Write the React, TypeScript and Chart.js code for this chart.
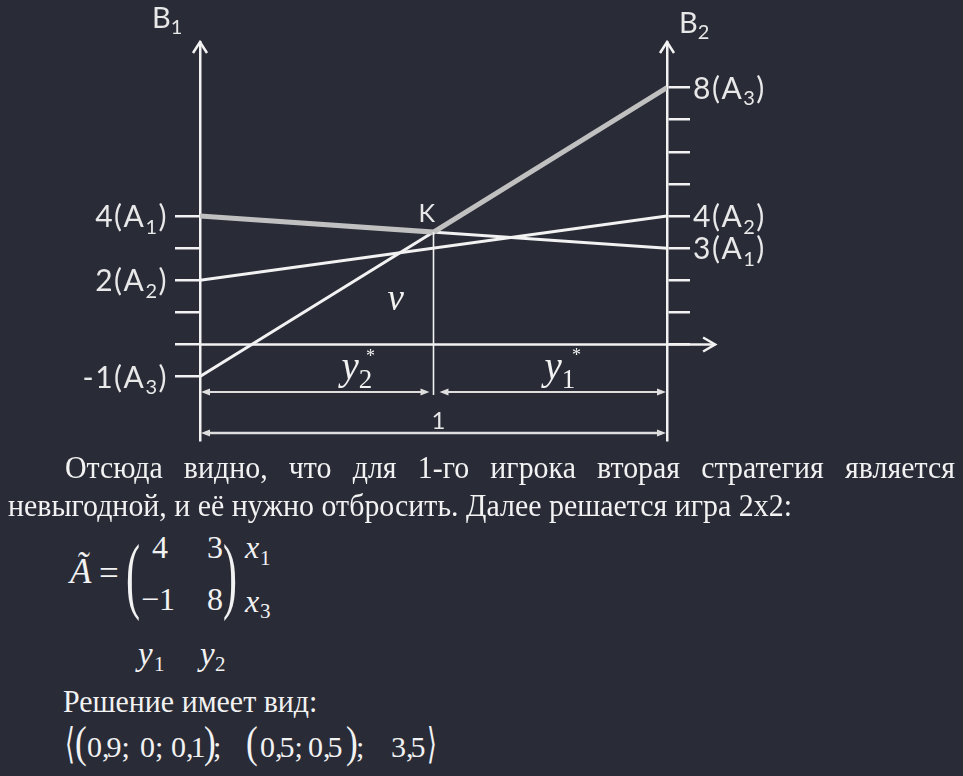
import React, { useEffect, useRef } from 'react';
import { Chart, registerables } from 'chart.js';

Chart.register(...registerables);

const BG = '#292b37';
const FG = '#f2f2f2';
const GRAY = '#c0c0c0';
const SANS = 'Lato, "Open Sans", sans-serif';
const SERIF = '"Liberation Serif", "Times New Roman", serif';

// payoff lines: value on B1 axis (x = 0) and on B2 axis (x = 1)
const strategies = ['A_1', 'A_2', 'A_3'];
const valuesAtB1 = [4, 2, -1];
const valuesAtB2 = [3, 4, 8];

// highlighted envelope through point K
const envelopeX = [0, 0.5, 1];
const envelopeY = [4, 3.5, 8];
const kPoint = [0.5, 3.5];

const leftTickValues = [-1, 0, 1, 2, 3, 4];
const leftTickLabels = ['-1(A_3)', '', '', '2(A_2)', '', '4(A_1)'];
const rightTickValues = [0, 1, 2, 3, 4, 5, 6, 7, 8];
const rightTickLabels = ['', '', '', '3(A_1)', '4(A_2)', '', '', '', '8(A_3)'];

const Y_MIN = -2.975;
const Y_MAX = 9.42;
const X_AXIS_END = 1.103;
const DIM_Y1 = -1.48;
const DIM_Y2 = -2.76;

type Seg = { t: string; sub: boolean };
function parseRich(s: string): Seg[] {
  const segs: Seg[] = [];
  for (let i = 0; i < s.length; i++) {
    if (s[i] === '_') {
      segs.push({ t: s[i + 1], sub: true });
      i++;
    } else if (segs.length && !segs[segs.length - 1].sub) segs[segs.length - 1].t += s[i];
    else segs.push({ t: s[i], sub: false });
  }
  return segs;
}

function drawRich(
  ctx: CanvasRenderingContext2D,
  s: string,
  x: number,
  y: number,
  size: number,
  align: 'left' | 'right' | 'center',
  family = SANS,
  italic = false,
  spacing = 0
) {
  const segs = parseRich(s);
  const subSize = Math.round(size * 0.68);
  const fontFor = (sub: boolean) => `${italic && !sub ? 'italic ' : ''}${sub ? subSize : size}px ${family}`;
  (ctx as any).letterSpacing = `${spacing}px`;
  let w = 0;
  for (const sg of segs) {
    ctx.font = fontFor(sg.sub);
    w += ctx.measureText(sg.t).width;
  }
  let cx = align === 'left' ? x : align === 'right' ? x - w : x - w / 2;
  ctx.textAlign = 'left';
  ctx.textBaseline = 'alphabetic';
  for (const sg of segs) {
    ctx.font = fontFor(sg.sub);
    ctx.fillText(sg.t, cx, sg.sub ? y + size * 0.22 : y);
    cx += ctx.measureText(sg.t).width;
  }
  (ctx as any).letterSpacing = '0px';
}

function line(ctx: CanvasRenderingContext2D, x1: number, y1: number, x2: number, y2: number, w: number) {
  ctx.lineWidth = w;
  ctx.beginPath();
  ctx.moveTo(x1, y1);
  ctx.lineTo(x2, y2);
  ctx.stroke();
}

function chevron(ctx: CanvasRenderingContext2D, tx: number, ty: number, dx: number, dy: number, len: number, hw: number) {
  ctx.lineWidth = 2.5;
  ctx.beginPath();
  ctx.moveTo(tx - dx * len - dy * hw, ty - dy * len + dx * hw);
  ctx.lineTo(tx, ty);
  ctx.lineTo(tx - dx * len + dy * hw, ty - dy * len - dx * hw);
  ctx.stroke();
}

function head(ctx: CanvasRenderingContext2D, tx: number, ty: number, dx: number, len = 9, hw = 3.5) {
  ctx.beginPath();
  ctx.moveTo(tx, ty);
  ctx.lineTo(tx - dx * len, ty - hw);
  ctx.lineTo(tx - dx * len, ty + hw);
  ctx.closePath();
  ctx.fill();
}

const overlay = {
  id: 'overlay',
  afterDraw(chart: any) {
    const { ctx, scales, chartArea } = chart;
    const px = (v: number) => scales.x.getPixelForValue(v);
    const py = (v: number) => scales.y.getPixelForValue(v);
    ctx.save();
    ctx.strokeStyle = FG;
    ctx.fillStyle = FG;

    // horizontal axis with arrow
    line(ctx, px(0), py(0), px(X_AXIS_END), py(0), 2.5);
    chevron(ctx, px(X_AXIS_END), py(0), 1, 0, 12, 7);
    // vertical axes arrows
    chevron(ctx, px(0), chartArea.top, 0, -1, 11, 7);
    chevron(ctx, px(1), chartArea.top, 0, -1, 11, 7);

    // vertical through K
    line(ctx, px(kPoint[0]), py(kPoint[1]), px(kPoint[0]), py(DIM_Y1) + 3, 1.6);

    // dimension lines
    ctx.strokeStyle = '#dedede';
    ctx.fillStyle = '#dedede';
    const y1 = py(DIM_Y1);
    const aL = px(0) + 1, aR = px(kPoint[0]) - 4, bL = px(kPoint[0]) + 6, bR = px(1) - 1;
    line(ctx, aL + 4, y1, aR - 4, y1, 2);
    head(ctx, aL, y1, -1);
    head(ctx, aR, y1, 1);
    line(ctx, bL + 4, y1, bR - 4, y1, 2);
    head(ctx, bL, y1, -1);
    head(ctx, bR, y1, 1);
    const y2 = py(DIM_Y2);
    line(ctx, aL + 4, y2, bR - 4, y2, 2.5);
    head(ctx, aL, y2, -1);
    head(ctx, bR, y2, 1);

    ctx.fillStyle = '#e8e8e8';
    // tick labels
    leftTickValues.forEach((v, i) => {
      if (leftTickLabels[i]) drawRich(ctx, leftTickLabels[i], px(0) - 32, py(v) + 11, 30, 'right', SANS, false, 1.5);
    });
    rightTickValues.forEach((v, i) => {
      if (rightTickLabels[i]) drawRich(ctx, rightTickLabels[i], px(1) + 26, py(v) + 11, 30, 'left', SANS, false, 1.5);
    });
    // axis names
    drawRich(ctx, 'B_1', px(0) - 48, chartArea.top - 14, 29, 'left');
    drawRich(ctx, 'B_2', px(1) + 12, chartArea.top - 9, 29, 'left');
    // point K
    drawRich(ctx, 'K', px(kPoint[0]) - 15, py(kPoint[1]) - 10, 25, 'left');
    // total length
    drawRich(ctx, '1', (px(0) + px(1)) / 2 + 5, y2 - 4, 24, 'center');

    // v, y2*, y1*
    ctx.fillStyle = FG;
    drawRich(ctx, 'v', px(kPoint[0]) - 46, py(1.06), 37, 'left', SERIF, true);
    drawRich(ctx, 'y_2', px(kPoint[0]) - 92, py(-1.08), 39, 'left', SERIF, true);
    drawRich(ctx, 'y_1', px(kPoint[0]) + 111, py(-1.08), 39, 'left', SERIF, true);
    ctx.font = `18px ${SERIF}`;
    ctx.textAlign = 'center';
    ctx.fillText('*', px(kPoint[0]) - 63, py(0) + 18);
    ctx.fillText('*', px(kPoint[0]) + 143, py(0) + 17);
    ctx.restore();
  },
};

const ASC = 0.8375;
function Txt({ x, y, size, italic, sx, family, children }: any) {
  return (
    <span
      style={{
        position: 'absolute',
        left: x,
        top: y - ASC * size,
        fontSize: size,
        lineHeight: `${size}px`,
        fontFamily: family || SERIF,
        fontStyle: italic ? 'italic' : 'normal',
        whiteSpace: 'pre',
        transform: sx ? `scaleX(${sx})` : undefined,
        transformOrigin: 'left top',
      }}
    >
      {children}
    </span>
  );
}

// number token with a tight decimal comma (equation style)
function Num({ x, y, text }: { x: number; y: number; text: string }) {
  return (
    <Txt x={x} y={y} size={NUM}>
      {text.split('').map((c, i) =>
        c === ',' ? (
          <span key={i} style={{ letterSpacing: '-3px' }}>
            ,
          </span>
        ) : (
          <span key={i}>{c}</span>
        )
      )}
    </Txt>
  );
}

const F = 32;
const SX = 0.935;
const NUM = 30;

export default function App() {
  const ref = useRef<HTMLCanvasElement>(null);
  useEffect(() => {
    document.body.style.margin = '0';
    document.body.style.background = BG;
    const datasets: any[] = [
      {
        label: 'envelope',
        data: envelopeX.map((x, i) => ({ x, y: envelopeY[i] })),
        borderColor: GRAY,
        borderWidth: 5,
        showLine: true,
        pointRadius: 0,
      },
      ...strategies.map((s, i) => ({
        label: s,
        data: [
          { x: 0, y: valuesAtB1[i] },
          { x: 1, y: valuesAtB2[i] },
        ],
        borderColor: FG,
        borderWidth: 3,
        showLine: true,
        pointRadius: 0,
      })),
    ];
    const axisCommon = (ticks: number[], tickLength: number) => ({
      min: Y_MIN,
      max: Y_MAX,
      afterBuildTicks: (s: any) => {
        s.ticks = ticks.map((v) => ({ value: v }));
      },
      ticks: { display: false },
      grid: { drawOnChartArea: false, drawTicks: true, tickLength, color: FG, lineWidth: 2.5 },
      border: { display: true, color: FG, width: 2.5 },
    });
    const chart = new Chart(ref.current!, {
      type: 'scatter',
      data: { datasets },
      options: {
        responsive: false,
        animation: false,
        layout: { padding: { top: 42, bottom: 30, left: 0, right: 0 } },
        plugins: { legend: { display: false }, tooltip: { enabled: false } },
        scales: {
          x: { type: 'linear', min: 0, max: 1, display: false },
          y: {
            position: 'left',
            ...axisCommon(leftTickValues, 25),
            afterFit: (s: any) => {
              s.width = 200;
            },
          },
          y2: {
            position: 'right',
            ...axisCommon(rightTickValues, 23),
            afterFit: (s: any) => {
              s.width = 296;
            },
          },
        } as any,
      },
      plugins: [overlay],
    });
    return () => chart.destroy();
  }, []);

  return (
    <div
      style={{
        position: 'absolute',
        left: 0,
        top: 0,
        width: 963,
        height: 776,
        background: BG,
        overflow: 'hidden',
        color: FG,
        fontFamily: SERIF,
      }}
    >
      <canvas ref={ref} width={963} height={470} style={{ position: 'absolute', left: 0, top: 0 }} />
      <div
        style={{
          position: 'absolute',
          left: 65,
          top: 478 - ASC * F,
          width: 890 / SX,
          fontSize: F,
          lineHeight: `${F}px`,
          textAlign: 'justify',
          textAlignLast: 'justify',
          transform: `scaleX(${SX})`,
          transformOrigin: 'left top',
        }}
      >
        Отсюда видно, что для 1-го игрока вторая стратегия является
      </div>
      <Txt x={8} y={516} size={F} sx={SX}>
        невыгодной, и её нужно отбросить. Далее решается игра 2х2:
      </Txt>

      <Txt x={70} y={583} size={35} italic>
        Ã
      </Txt>
      <Txt x={99} y={585} size={35}>
        =
      </Txt>
      <Txt x={126} y={603} size={84} sx={0.5}>
        (
      </Txt>
      <Txt x={152} y={558} size={32}>
        4
      </Txt>
      <Txt x={207} y={558} size={32}>
        3
      </Txt>
      <Txt x={141} y={610} size={32}>
        −1
      </Txt>
      <Txt x={207} y={610} size={32}>
        8
      </Txt>
      <Txt x={223} y={603} size={84} sx={0.5}>
        )
      </Txt>
      <Txt x={245} y={558} size={32} italic>
        x
      </Txt>
      <Txt x={260} y={566} size={21}>
        1
      </Txt>
      <Txt x={245} y={612} size={32} italic>
        x
      </Txt>
      <Txt x={260} y={619} size={21}>
        3
      </Txt>
      <Txt x={138} y={666} size={33} italic>
        y
      </Txt>
      <Txt x={154} y={672} size={21}>
        1
      </Txt>
      <Txt x={200} y={666} size={33} italic>
        y
      </Txt>
      <Txt x={215} y={672} size={21}>
        2
      </Txt>

      <Txt x={63} y={712} size={F} sx={SX}>
        Решение имеет вид:
      </Txt>

      <Txt x={65} y={758} size={42} sx={0.6} family='"DejaVu Serif", serif'>
        ⟨
      </Txt>
      <Txt x={75} y={758} size={44} sx={0.8}>
        (
      </Txt>
      <Num x={87} y={757} text="0,9;" />
      <Num x={140} y={757} text="0;" />
      <Num x={171} y={757} text="0,1" />
      <Txt x={204} y={758} size={44} sx={0.8}>
        )
      </Txt>
      <Txt x={213} y={757} size={NUM}>
        ;
      </Txt>
      <Txt x={246} y={758} size={44} sx={0.8}>
        (
      </Txt>
      <Num x={260} y={757} text="0,5;" />
      <Num x={308} y={757} text="0,5" />
      <Txt x={346} y={758} size={44} sx={0.8}>
        )
      </Txt>
      <Txt x={356} y={757} size={NUM}>
        ;
      </Txt>
      <Num x={391} y={757} text="3,5" />
      <Txt x={427} y={758} size={42} sx={0.6} family='"DejaVu Serif", serif'>
        ⟩
      </Txt>
    </div>
  );
}
